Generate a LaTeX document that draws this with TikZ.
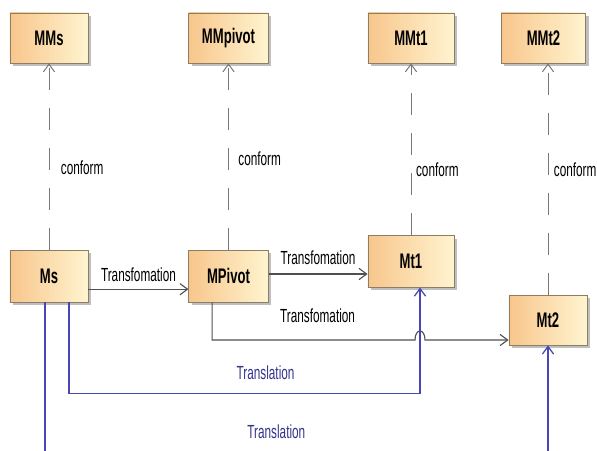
\documentclass[tikz,border=0pt]{standalone}
\usepackage{fontspec}
\newfontfamily\narrowfont[FakeStretch=0.62]{Liberation Sans}
\usepackage{tikz}
\usetikzlibrary{arrows.meta,shapes,positioning,shadows}
\definecolor{mdpeach}{RGB}{248,198,140}
\definecolor{mdcream}{RGB}{255,244,208}
\definecolor{mdborder}{RGB}{140,125,100}
\definecolor{mdgray}{RGB}{80,80,80}
\definecolor{mddash}{RGB}{120,120,120}
\definecolor{mdblue}{RGB}{70,70,180}
\definecolor{mdtext}{RGB}{50,50,140}
\tikzstyle{model} = [rectangle, minimum width=1.95cm, minimum height=1.25cm, inner sep=0pt, text centered, draw=mdborder, line width=0.6pt, left color=mdpeach, right color=mdcream, drop shadow={shadow xshift=0.07cm, shadow yshift=-0.07cm, fill=black!50}, font=\narrowfont\bfseries\fontsize{15pt}{17pt}\selectfont]
\tikzstyle{trans} = [line width=0.8pt, ->, >={Straight Barb[length=1.9mm,width=2.8mm]}, color=mdgray]
\tikzstyle{transl} = [line width=0.9pt, ->, >={Straight Barb[length=1.9mm,width=2.8mm]}, color=mdblue]
\tikzstyle{conf} = [line width=0.7pt, ->, >={Straight Barb[length=1.9mm,width=2.8mm]}, color=mddash, dash pattern=on 0.55cm off 0.45cm]
\tikzstyle{lbl} = [font=\narrowfont\fontsize{13.5pt}{15pt}\selectfont, text=black, inner sep=1pt]

\begin{document}
\begin{tikzpicture}[x=0.025cm, y=-0.025cm]
\useasboundingbox (0,0) rectangle (597,450);
\clip (0,0) rectangle (597,450);

% Metamodels
\node[model] (mms) at (49,38) {MMs};
\node[model, minimum width=1.98cm] (mmpivot) at (228.5,38) {MMpivot};
\node[model, minimum width=2.15cm] (mmt1) at (411,38) {MMt1};
\node[model, minimum width=2.12cm] (mmt2) at (543.5,38) {MMt2};

% Models
\node[model, minimum height=1.3cm] (ms) at (49,276) {Ms};
\node[model, minimum width=1.98cm, minimum height=1.3cm] (mpivot) at (228.5,276) {MPivot};
\node[model, minimum width=2.15cm, minimum height=1.28cm] (mt1) at (411,261.5) {Mt1};
\node[model] (mt2) at (548,320) {Mt2};

% conform
\draw[conf] (ms.north) -- node[lbl, pos=0.44, right=0.25cm] {conform} (mms.south);
\draw[conf] (mpivot.north) -- node[lbl, pos=0.49, right=0.2cm] {conform} (mmpivot.south);
\draw[conf] (mt1.north) -- node[lbl, pos=0.38, right=0.08cm] {conform} (mmt1.south);
\draw[conf] (mt2.north) -- node[lbl, pos=0.54, right=0.1cm] {conform} (mt2.north |- mmt2.south);

% Transfomation
\coordinate (t1start) at ([yshift=-0.33cm]ms.east);
\draw[trans] (t1start) -- node[lbl, above=0.15cm] {Transfomation} (t1start -| mpivot.west);
\coordinate (t2start) at ([yshift=0.05cm]mpivot.east);
\draw[trans] (t2start) -- node[lbl, above=0.18cm] {Transfomation} (t2start -| mt1.west);
\coordinate (t3start) at ([xshift=-0.41cm]mpivot.south);
\coordinate (t3end) at ([yshift=-0.5cm]mt2.west);
\coordinate (t1in) at ([xshift=0.225cm]mt1.south);
\coordinate (hop) at (t1in |- t3end);
\draw[trans] (t3start) |- node[lbl, pos=0.76, above=0.38cm] {Transfomation} ([xshift=-0.125cm]hop)
  .. controls +(0,-12) and +(0,-12) .. ([xshift=0.125cm]hop) -- (t3end);

% Translation
\draw[transl] ([xshift=0.5cm]ms.south) -- ++(0,91) -| node[lbl, text=mdtext, pos=0.28, above=0.3cm] {Translation} (t1in);
\draw[transl] ([xshift=-0.1cm]ms.south) -- ++(0,155) -| node[lbl, text=mdtext, pos=0.23, above=0.43cm] {Translation} (mt2.south);
\end{tikzpicture}
\end{document}
